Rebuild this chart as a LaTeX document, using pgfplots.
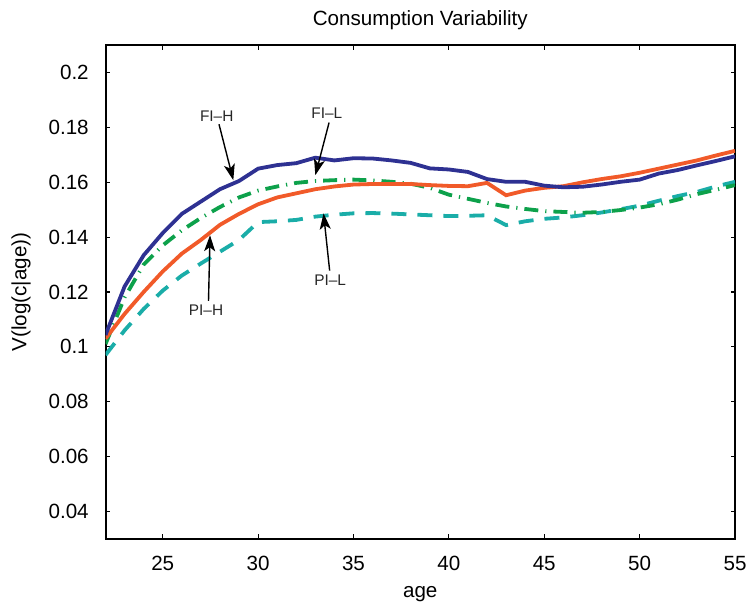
\documentclass[border=0pt]{standalone}
\usepackage{fontspec}
\setmainfont{Liberation Sans}
\usepackage{pgfplots}
\pgfplotsset{compat=1.18}
\usetikzlibrary{arrows.meta}

\definecolor{fih}{HTML}{2E3192}
\definecolor{pih}{HTML}{F15A29}
\definecolor{fil}{HTML}{0DA14B}
\definecolor{pil}{HTML}{1AADA8}

\begin{document}
\begin{tikzpicture}
\useasboundingbox (0,0) rectangle (373.5pt,302.5pt);
\begin{axis}[
    at={(52.75pt,33.15pt)}, anchor=south west,
    scale only axis,
    width=314.75pt, height=246.7pt,
    xmin=22, xmax=55, ymin=0.03, ymax=0.21,
    xtick={25,30,...,55},
    ytick={0.04,0.06,0.08,0.1,0.12,0.14,0.16,0.18,0.2},
    scaled y ticks=false,
    yticklabel style={/pgf/number format/fixed, /pgf/number format/precision=2},
    /pgf/number format/assume math mode=true,
    tick align=inside,
    major tick length=2.2pt,
    axis line style={line width=1pt},
    every tick/.style={black, line width=0.6pt},
    font=\fontsize{10.3}{12}\selectfont,
    xticklabel style={anchor=north, inner sep=0pt, yshift=-8.5pt},
    yticklabel style={anchor=east, inner sep=0pt, xshift=-8.2pt},
    xlabel={age},
    xlabel style={at={(axis description cs:0.5,-0.113)}, anchor=center, inner sep=0pt},
    ylabel={V(log(c|age))},
    ylabel style={at={(axis description cs:-0.134,0.5)}, anchor=center, inner sep=0pt},
    clip=true,
]
% PI-L
\addplot[color=pil, line width=1.9pt, dash pattern=on 7.5pt off 5.5pt] coordinates {
(22,0.097) (23,0.106) (24,0.1138) (25,0.1205) (26,0.126) (27,0.1304)
(28,0.1347) (29,0.139) (30,0.1455) (31,0.1458) (32,0.1463) (33,0.1475)
(34,0.1482) (35,0.1487) (36,0.1488) (37,0.1486) (38,0.1483) (39,0.148)
(40,0.1477) (41,0.1478) (42,0.148) (43,0.1444) (44,0.1458) (45,0.1467)
(46,0.1472) (47,0.148) (48,0.149) (49,0.1502) (50,0.1515) (51,0.1533)
(52,0.155) (53,0.1565) (54,0.1585) (55,0.1602)
};
% FI-L
\addplot[color=fil, line width=1.9pt, dash pattern=on 7pt off 3.5pt on 0.6pt off 3.5pt] coordinates {
(22,0.101) (23,0.118) (24,0.130) (25,0.137) (26,0.1425) (27,0.147)
(28,0.151) (29,0.1545) (30,0.157) (31,0.1585) (32,0.1598) (33,0.1605)
(34,0.1608) (35,0.161) (36,0.1607) (37,0.1602) (38,0.1595) (39,0.158)
(40,0.1555) (41,0.154) (42,0.1525) (43,0.1512) (44,0.1503) (45,0.1495)
(46,0.1492) (47,0.1489) (48,0.1492) (49,0.1499) (50,0.1508) (51,0.152)
(52,0.1537) (53,0.1557) (54,0.1573) (55,0.159)
};
% PI-H
\addplot[color=pih, line width=1.9pt] coordinates {
(22,0.103) (23,0.112) (24,0.120) (25,0.1275) (26,0.134) (27,0.139)
(28,0.1445) (29,0.1485) (30,0.152) (31,0.1545) (32,0.156) (33,0.1575)
(34,0.1585) (35,0.1592) (36,0.1594) (37,0.1594) (38,0.1594) (39,0.159)
(40,0.1587) (41,0.1586) (42,0.1598) (43,0.1553) (44,0.157) (45,0.158)
(46,0.1586) (47,0.160) (48,0.1612) (49,0.1622) (50,0.1635) (51,0.165)
(52,0.1665) (53,0.168) (54,0.1698) (55,0.1715)
};
% FI-H
\addplot[color=fih, line width=1.9pt] coordinates {
(22,0.1043) (23,0.122) (24,0.1334) (25,0.1415) (26,0.1485) (27,0.153)
(28,0.1575) (29,0.1605) (30,0.165) (31,0.1663) (32,0.167) (33,0.169)
(34,0.168) (35,0.1688) (36,0.1687) (37,0.168) (38,0.1671) (39,0.1651)
(40,0.1647) (41,0.1638) (42,0.1612) (43,0.1602) (44,0.1602) (45,0.1588)
(46,0.1582) (47,0.1584) (48,0.1592) (49,0.1602) (50,0.161) (51,0.1632)
(52,0.1645) (53,0.1662) (54,0.1678) (55,0.1695)
};

% annotations
\tikzset{ann/.style={font=\fontsize{7.7}{9}\selectfont, inner sep=0pt, text=black!85},
         arr/.style={line width=0.7pt, -{Stealth[length=8pt,width=5.5pt,inset=2pt]}}}
\node[ann] at (axis cs:27.83,0.184) {FI–H};
\draw[arr] (axis cs:27.95,0.1812) -- (axis cs:28.7,0.1608);
\node[ann] at (axis cs:33.6,0.1854) {FI–L};
\draw[arr] (axis cs:33.72,0.1818) -- (axis cs:33.0,0.1626);
\node[ann] at (axis cs:27.27,0.1134) {PI–H};
\draw[arr] (axis cs:27.4,0.1168) -- (axis cs:27.48,0.1407);
\node[ann] at (axis cs:33.78,0.1243) {PI–L};
\draw[arr] (axis cs:33.75,0.1278) -- (axis cs:33.43,0.1487);
\end{axis}
\node[font=\fontsize{10.3}{12}\selectfont, inner sep=0pt, anchor=center]
  at (52.75pt+157.4pt, 302.5pt-10pt) {Consumption Variability};
\end{tikzpicture}
\end{document}
